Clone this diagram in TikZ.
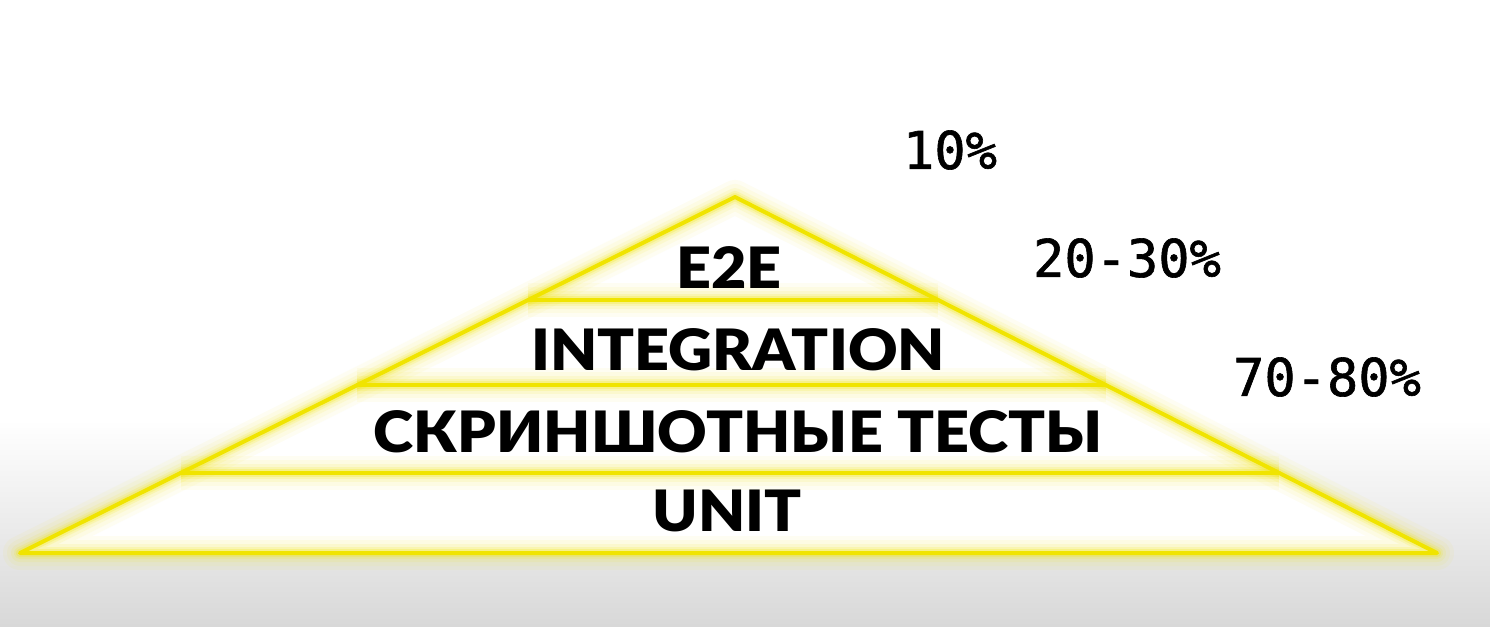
\documentclass[tikz,border=0pt]{standalone}
\usepackage{fontspec}
\usetikzlibrary{calc}
\newfontfamily\tierfont{Lato Black}
\newfontfamily\pctfont{DejaVu Sans Mono}[FakeBold=1.2]
\definecolor{pyr}{HTML}{F0E400}
\definecolor{bgbot}{HTML}{D8D8D8}
\tikzset{
  tier/.style={font=\tierfont\fontsize{57}{60}\selectfont, text=black, inner sep=0pt, anchor=center, xscale=1.07},
  pct/.style={font=\pctfont\fontsize{52}{56}\selectfont, text=black, inner sep=0pt, anchor=center},
  edge/.style={draw=pyr, line width=4pt, line join=round, line cap=round},
}
\begin{document}
\begin{tikzpicture}[x=1pt,y=-1pt]
\useasboundingbox (0,0) rectangle (1490,626);
\fill[white] (0,0) rectangle (1490,626);
\shade[top color=white, bottom color=bgbot] (0,420) rectangle (1490,626);
\coordinate (apex) at (735,197);
\coordinate (bl) at (20,553);
\coordinate (br) at (1437,553);
\coordinate (l1) at ($(apex)!0.289!(bl)$);
\coordinate (r1) at ($(apex)!0.289!(br)$);
\coordinate (l2) at ($(apex)!0.528!(bl)$);
\coordinate (r2) at ($(apex)!0.528!(br)$);
\coordinate (l3) at ($(apex)!0.775!(bl)$);
\coordinate (r3) at ($(apex)!0.775!(br)$);
\fill[white] (apex) -- (br) -- (bl) -- cycle;
\foreach \w/\o in {34/0.05, 26/0.06, 18/0.09, 12/0.14, 8/0.22} {
  \draw[pyr, line width=\w pt, opacity=\o, line join=round] (apex) -- (br) -- (bl) -- cycle;
  \draw[pyr, line width=\w pt, opacity=\o] (l1) -- (r1);
  \draw[pyr, line width=\w pt, opacity=\o] (l2) -- (r2);
  \draw[pyr, line width=\w pt, opacity=\o] (l3) -- (r3);
}
\draw[edge] (apex) -- (br) -- (bl) -- cycle;
\draw[edge] (l1) -- (r1);
\draw[edge] (l2) -- (r2);
\draw[edge] (l3) -- (r3);
\node[tier] (e2e) at (729,268) {E2E};
\node[tier] (integ) at (738,350) {INTEGRATION};
\node[tier] (screen) at (738,432) {СКРИНШОТНЫЕ ТЕСТЫ};
\node[tier] (unit) at (727,511) {UNIT};
\node[pct] (p10) at (950,150) {10\%};
\node[pct] (p20) at (1127,258) {20-30\%};
\node[pct] (p70) at (1327,377) {70-80\%};
\end{tikzpicture}
\end{document}
